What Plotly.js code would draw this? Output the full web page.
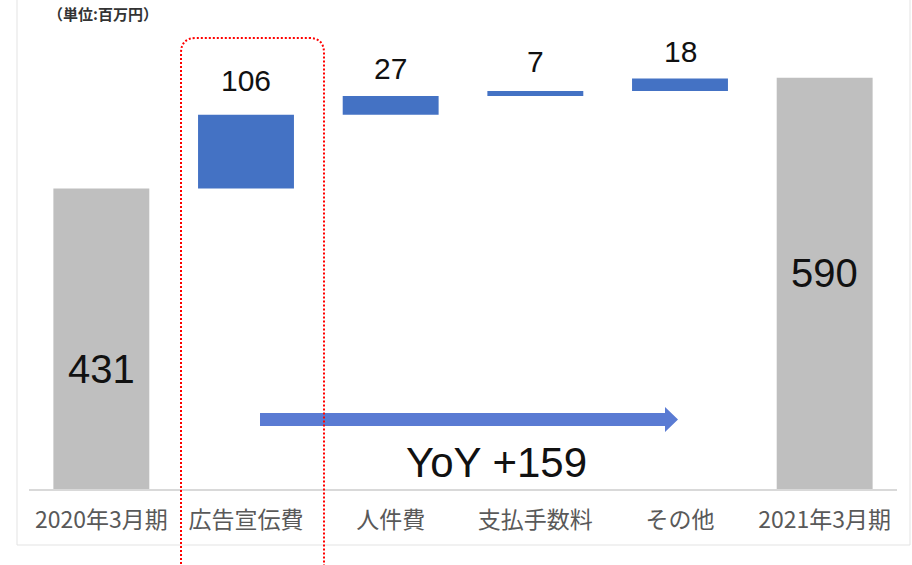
<!DOCTYPE html>
<html>
<head>
<meta charset="utf-8">
<script src="https://cdn.plot.ly/plotly-3.0.1.min.js"></script>
<style>html,body{margin:0;padding:0;background:#fff;}#chart{width:912px;height:565px;}</style>
</head>
<body>
<div id="chart"></div>
<script>
// ---- data ----
const categories = ["2020年3月期", "広告宣伝費", "人件費", "支払手数料", "その他", "2021年3月期"];
const values = [431, 106, 27, 7, 18, 590];
const measures = ["absolute", "relative", "relative", "relative", "relative", "absolute"];
const valueLabels = ["431", "106", "27", "7", "18", "590"];
const unitLabel = "（単位:百万円）";
const yoyLabel = "YoY +159";

// ---- style ----
const totalFrac = [0.40, null, null, null, null, 0.525];   // where the big label sits inside total bars
const aboveShift = [null, 34, 27, 30, 27, null];           // px above top of increment bars

const W = 912, H = 565;
const M = {l: 29, r: 15, t: 40, b: 76};
const pw = W - M.l - M.r, ph = H - M.t - M.b;
const px = x => (x - M.l) / pw;
const py = y => (H - M.b - y) / ph;

const annotations = [];
let cum = 0;
values.forEach((v, i) => {
  if (measures[i] === "absolute") {
    cum = v;
    annotations.push({x: categories[i], y: v * totalFrac[i], xref: "x", yref: "y",
      text: valueLabels[i], showarrow: false, yanchor: "middle",
      font: {family: "Liberation Sans, Arial, sans-serif", size: 40, color: "#111111"}});
  } else {
    cum += v;
    annotations.push({x: categories[i], y: cum, xref: "x", yref: "y",
      text: valueLabels[i], showarrow: false, yanchor: "middle", yshift: aboveShift[i],
      font: {family: "Liberation Sans, Arial, sans-serif", size: 30, color: "#111111"}});
  }
});
annotations.push({x: px(496), y: py(462), xref: "paper", yref: "paper", text: yoyLabel,
  showarrow: false, xanchor: "center", yanchor: "middle",
  font: {family: "Liberation Sans, Arial, sans-serif", size: 42, color: "#111111"}});
annotations.push({x: px(103), y: py(14), xref: "paper", yref: "paper", text: unitLabel,
  showarrow: false, xanchor: "center", yanchor: "middle",
  font: {family: "Noto Sans CJK JP, sans-serif", size: 15, color: "#333333", weight: "bold"}});

// dotted rounded rectangle
const rx0 = px(181), rx1 = px(324), ryt = py(38), ryb = py(600);
const rrx = 15 / pw, rry = 15 / ph;
const rectPath = `M ${rx0},${ryb} L ${rx0},${ryt - rry} Q ${rx0},${ryt} ${rx0 + rrx},${ryt} ` +
  `L ${rx1 - rrx},${ryt} Q ${rx1},${ryt} ${rx1},${ryt - rry} L ${rx1},${ryb}`;

// arrow polygon
const arrowPath = `M ${px(260)},${py(413)} L ${px(665)},${py(413)} L ${px(665)},${py(407)} ` +
  `L ${px(678)},${py(419.5)} L ${px(665)},${py(432)} L ${px(665)},${py(426)} L ${px(260)},${py(426)} Z`;

const shapes = [
  {type: "rect", xref: "paper", yref: "paper", x0: px(17), x1: px(910), y0: py(545), y1: py(-5),
    line: {color: "#e3e3e3", width: 1}, fillcolor: "rgba(0,0,0,0)", layer: "below"},
  {type: "path", xref: "paper", yref: "paper", path: arrowPath, fillcolor: "#5a7bd3",
    line: {width: 0}},
  {type: "path", xref: "paper", yref: "paper", path: rectPath,
    line: {color: "#ff0000", width: 2, dash: "2px,2px"}}
];

const trace = {
  type: "waterfall",
  x: categories,
  y: values,
  measure: measures,
  connector: {visible: false},
  increasing: {marker: {color: "#4472c4"}},
  decreasing: {marker: {color: "#4472c4"}},
  totals: {marker: {color: "#bfbfbf"}},
  textinfo: "none",
  hoverinfo: "skip"
};

const layout = {
  width: W, height: H,
  margin: M,
  paper_bgcolor: "#ffffff", plot_bgcolor: "#ffffff",
  showlegend: false,
  waterfallgap: 0.337,
  xaxis: {type: "category", showline: true, linecolor: "#d9d9d9", linewidth: 1.5,
    ticks: "", showgrid: false, zeroline: false, ticklabelstandoff: 10,
    tickfont: {family: "Noto Sans CJK JP, sans-serif", size: 23, color: "#595959"}},
  yaxis: {visible: false, range: [0, ph / 0.697], showgrid: false, zeroline: false},
  annotations: annotations,
  shapes: shapes
};

Plotly.newPlot("chart", [trace], layout, {staticPlot: true});
</script>
</body>
</html>
